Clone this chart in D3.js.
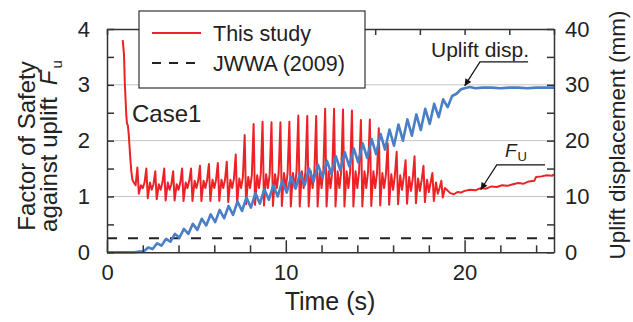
<!DOCTYPE html>
<html>
<head>
<meta charset="utf-8">
<script src="https://cdn.jsdelivr.net/npm/d3@7"></script>
<style>
  body { margin: 0; background: #fff; }
  svg { display: block; font-family: "Liberation Sans", Arial, sans-serif; }
</style>
</head>
<body>
<svg id="chart" width="633" height="322"></svg>
<script>
// start of each loading cycle (s), shaking at about 2 Hz
const cycleT = [1.5, 2.0, 2.5, 3.0, 3.5, 4.0, 4.5, 5.0, 5.5, 6.0, 6.5, 7.0, 7.5, 8.0, 8.5, 9.0, 9.5,
    10.0, 10.5, 11.0, 11.5, 12.0, 12.5, 13.0, 13.5, 14.0, 14.5, 15.0, 15.5, 16.0, 16.5, 17.0, 17.5, 18.0, 18.5];

// factor of safety Fu, read per cycle
const redSpike = [1.52, 1.5, 1.45, 1.5, 1.45, 1.5, 1.5, 1.55, 1.58, 1.6, 1.62, 1.75, 2.1, 2.3, 2.34, 2.33, 2.33,
    2.34, 2.45, 2.44, 2.44, 2.57, 2.57, 2.56, 2.54, 2.37, 2.38, 2.22, 1.95, 1.8, 1.65, 1.72, 1.55, 1.42, 1.28];
const redTrough = [1.05, 0.97, 0.95, 0.93, 0.93, 0.92, 0.92, 0.92, 0.92, 0.92, 0.9, 0.88, 0.86, 0.85, 0.84, 0.83, 0.83,
    0.82, 0.82, 0.82, 0.82, 0.82, 0.82, 0.82, 0.82, 0.82, 0.83, 0.84, 0.85, 0.86, 0.87, 0.88, 0.9, 0.92, 0.98];
const redMidHi = [1.2, 1.25, 1.22, 1.25, 1.22, 1.25, 1.28, 1.28, 1.3, 1.3, 1.3, 1.32, 1.35, 1.38, 1.4, 1.4, 1.42,
    1.42, 1.45, 1.45, 1.45, 1.45, 1.45, 1.45, 1.45, 1.45, 1.45, 1.42, 1.4, 1.38, 1.35, 1.32, 1.3, 1.25, 1.15];
const redMidLo = [1.25, 1.15, 1.12, 1.12, 1.12, 1.12, 1.15, 1.15, 1.15, 1.15, 1.15, 1.15, 1.15, 1.15, 1.15, 1.15, 1.15,
    1.15, 1.15, 1.15, 1.15, 1.15, 1.15, 1.15, 1.15, 1.15, 1.15, 1.15, 1.15, 1.12, 1.12, 1.1, 1.1, 1.08, 1.05];

const redHeadT = [0.88, 0.95, 1.0, 1.08, 1.12, 1.17, 1.22, 1.3, 1.36, 1.42];
const redHeadFs = [3.8, 3.55, 3.0, 2.45, 2.3, 2.27, 2.1, 1.7, 1.45, 1.3];
const redTailT = [19.0, 19.2, 19.4, 19.6, 19.8, 20.0, 20.3, 20.6, 20.9, 21.2, 21.5, 21.8, 22.1, 22.4,
    22.7, 23.0, 23.3, 23.6, 23.9, 24.0, 24.3, 24.6, 24.9, 25.0];
const redTailFs = [1.12, 1.06, 1.04, 1.08, 1.07, 1.1, 1.12, 1.11, 1.15, 1.14, 1.18, 1.17, 1.2, 1.19,
    1.22, 1.24, 1.23, 1.27, 1.28, 1.35, 1.36, 1.38, 1.37, 1.4];

// uplift displacement (mm), per cycle low / high
const blueLow = [0.0, 0.15, 0.6, 1.2, 1.9, 2.6, 3.3, 4.0, 4.8, 5.4, 6.1, 6.7, 7.4, 8.0, 8.7, 9.4, 10.0,
    10.7, 11.4, 12.0, 12.7, 13.4, 14.0, 14.7, 15.4, 16.1, 16.9, 17.6, 18.4, 19.1, 20.0, 20.9, 21.9, 23.0, 24.2];
const blueHigh = [0.15, 0.85, 1.6, 2.4, 3.3, 4.2, 5.1, 6.0, 6.8, 7.6, 8.3, 9.1, 9.8, 10.6, 11.3, 12.0, 12.8,
    13.5, 14.2, 15.0, 15.7, 16.4, 17.2, 17.9, 18.6, 19.5, 20.3, 21.2, 22.0, 22.9, 23.8, 24.7, 25.7, 26.6, 27.4];
const blueHeadT = [0, 1.4];
const blueHeadMm = [0, 0];
const blueTailT = [19.05, 19.3, 19.55, 19.8, 20.0, 20.3, 20.6, 21.0, 21.5, 22.0, 22.5, 23.0, 23.5, 24.0, 24.5, 25.0];
const blueTailMm = [26.0, 28.0, 28.4, 29.2, 29.4, 29.6, 29.4, 29.5, 29.5, 29.4, 29.5, 29.5, 29.4, 29.5, 29.5, 29.5];

const jwwaFs = 0.25;

const xTicks = [0, 2, 4, 6, 8, 10, 12, 14, 16, 18, 20, 22, 24];
const xTopTicks = [0, 2.5, 5, 7.5, 10, 12.5, 15, 17.5, 20, 22.5, 25];
const yTicks = [0, 0.5, 1, 1.5, 2, 2.5, 3, 3.5, 4];
const yRTicks = [0, 5, 10, 15, 20, 25, 30, 35, 40];

const svg = d3.select("#chart");
const pL = 107, pR = 554, pT = 29, pB = 252.3;

const x = d3.scaleLinear().domain([0, 25]).range([pL, pR]);
const y = d3.scaleLinear().domain([0, 4]).range([pB, pT]);
const yR = d3.scaleLinear().domain([0, 40]).range([pB, pT]);

// grid
svg.append("g").selectAll("line")
    .data([1, 2, 3])
    .join("line")
    .attr("x1", pL).attr("x2", pR)
    .attr("y1", d => y(d)).attr("y2", d => y(d))
    .attr("stroke", "#c4c4c4").attr("stroke-width", 1);

// JWWA line
svg.append("line")
    .attr("x1", x(0)).attr("x2", x(25))
    .attr("y1", y(jwwaFs)).attr("y2", y(jwwaFs))
    .attr("stroke", "#222").attr("stroke-width", 2)
    .attr("stroke-dasharray", "10,11");

// build series
const redPts = [];
redHeadT.forEach((t, i) => redPts.push([t, redHeadFs[i]]));
cycleT.forEach((t0, i) => {
    redPts.push([t0, redMidLo[i]], [t0 + 0.1, redMidHi[i]], [t0 + 0.2, redSpike[i]],
        [t0 + 0.28, redTrough[i]], [t0 + 0.4, redMidHi[i]]);
});
redTailT.forEach((t, i) => redPts.push([t, redTailFs[i]]));

const bluePts = [];
blueHeadT.forEach((t, i) => bluePts.push([t, blueHeadMm[i]]));
cycleT.forEach((t0, i) => {
    bluePts.push([t0 + 0.05, blueLow[i]], [t0 + 0.3, blueHigh[i]]);
});
blueTailT.forEach((t, i) => bluePts.push([t, blueTailMm[i]]));

svg.append("path")
    .datum(redPts)
    .attr("fill", "none")
    .attr("stroke", "#ec2227")
    .attr("stroke-width", 2)
    .attr("stroke-linejoin", "round")
    .attr("d", d3.line().x(d => x(d[0])).y(d => y(d[1])));

svg.append("path")
    .datum(bluePts)
    .attr("fill", "none")
    .attr("stroke", "#4a7ec6")
    .attr("stroke-width", 2.6)
    .attr("stroke-linejoin", "round")
    .attr("d", d3.line().x(d => x(d[0])).y(d => yR(d[1])));

// axes
function styleAxis(g) {
    g.attr("font-size", null).attr("font-family", null);
    g.selectAll("path.domain").attr("stroke", "#333").attr("stroke-width", 1.5);
    g.selectAll(".tick line").attr("stroke", "#333").attr("stroke-width", 1.5);
    g.selectAll("text").attr("fill", "#222").style("font-size", "22px");
}

svg.append("g")
    .attr("transform", `translate(0,${pB})`)
    .call(d3.axisBottom(x).tickValues(xTicks).tickSizeInner(-7).tickSizeOuter(0).tickPadding(12)
        .tickFormat(d => d % 10 === 0 ? d : ""))
    .call(styleAxis)
    .call(g => g.selectAll(".tick line").filter(d => d % 10 === 0).attr("y2", -12));

svg.append("g")
    .attr("transform", `translate(0,${pT})`)
    .call(d3.axisTop(x).tickValues(xTopTicks).tickSizeInner(-6).tickSizeOuter(0).tickFormat(""))
    .call(styleAxis);

svg.append("g")
    .attr("transform", `translate(${pL},0)`)
    .call(d3.axisLeft(y).tickValues(yTicks).tickSizeInner(-7).tickSizeOuter(0).tickPadding(17)
        .tickFormat(d => Number.isInteger(d) ? d : ""))
    .call(styleAxis);

svg.append("g")
    .attr("transform", `translate(${pR},0)`)
    .call(d3.axisRight(yR).tickValues(yRTicks).tickSizeInner(-7).tickSizeOuter(0).tickPadding(11)
        .tickFormat(d => d % 10 === 0 ? d : ""))
    .call(styleAxis);

// axis titles
svg.append("text")
    .attr("x", 330).attr("y", 310)
    .attr("text-anchor", "middle")
    .style("font-size", "25px").attr("fill", "#222")
    .text("Time (s)");

svg.append("text")
    .attr("transform", "translate(35,146) rotate(-90)")
    .attr("text-anchor", "middle")
    .style("font-size", "24px").attr("fill", "#222")
    .text("Factor of Safety");

const t2 = svg.append("text")
    .attr("transform", "translate(57,146) rotate(-90)")
    .attr("text-anchor", "middle")
    .style("font-size", "24px").attr("fill", "#222");
t2.append("tspan").text("against uplift\u2002");
t2.append("tspan").style("font-style", "italic").text("F");
t2.append("tspan").attr("dy", 5).attr("dx", 2).style("font-size", "15px").text("u");

svg.append("text")
    .attr("transform", "translate(625,135) rotate(-90)")
    .attr("text-anchor", "middle")
    .style("font-size", "22.5px").attr("fill", "#222")
    .text("Uplift displacement (mm)");

// annotations
svg.append("text")
    .attr("x", 132).attr("y", 122)
    .style("font-size", "24px").attr("fill", "#222")
    .text("Case1");

svg.append("defs").append("marker")
    .attr("id", "arr")
    .attr("viewBox", "0 0 10 10")
    .attr("refX", 10).attr("refY", 5)
    .attr("markerWidth", 9).attr("markerHeight", 7)
    .attr("markerUnits", "userSpaceOnUse")
    .attr("orient", "auto")
    .append("path").attr("d", "M0,0L10,5L0,10z").attr("fill", "#111");

svg.append("text")
    .attr("x", 431).attr("y", 56.5)
    .style("font-size", "21px").attr("fill", "#222")
    .text("Uplift disp.");
svg.append("path")
    .attr("d", `M${x(23.55)},${yR(34.1)}L${x(20.86)},${yR(34.1)}L${x(20.0)},${yR(29.8)}`)
    .attr("fill", "none").attr("stroke", "#111").attr("stroke-width", 1.2)
    .attr("marker-end", "url(#arr)");

const fu = svg.append("text")
    .attr("x", 505).attr("y", 157)
    .style("font-size", "19px").attr("fill", "#222");
fu.append("tspan").style("font-style", "italic").text("F");
fu.append("tspan").attr("dy", 4).attr("dx", 1).style("font-size", "13px").text("U");
svg.append("path")
    .attr("d", `M${x(24.5)},${y(1.565)}L${x(21.8)},${y(1.565)}L${x(20.9)},${y(1.12)}`)
    .attr("fill", "none").attr("stroke", "#111").attr("stroke-width", 1.2)
    .attr("marker-end", "url(#arr)");

// legend
const lg = svg.append("g");
lg.append("rect")
    .attr("x", 139).attr("y", 11).attr("width", 226).attr("height", 77)
    .attr("fill", "#fff").attr("stroke", "#333").attr("stroke-width", 1.2);
lg.append("line")
    .attr("x1", 152).attr("x2", 201).attr("y1", 33).attr("y2", 33)
    .attr("stroke", "#ec2227").attr("stroke-width", 2);
lg.append("line")
    .attr("x1", 152).attr("x2", 201).attr("y1", 63).attr("y2", 63)
    .attr("stroke", "#222").attr("stroke-width", 2).attr("stroke-dasharray", "9,8");
lg.append("text").attr("x", 213).attr("y", 40.5)
    .style("font-size", "21.5px").attr("fill", "#222").text("This study");
lg.append("text").attr("x", 213).attr("y", 70.5)
    .style("font-size", "21.5px").attr("fill", "#222").text("JWWA (2009)");
</script>
</body>
</html>
